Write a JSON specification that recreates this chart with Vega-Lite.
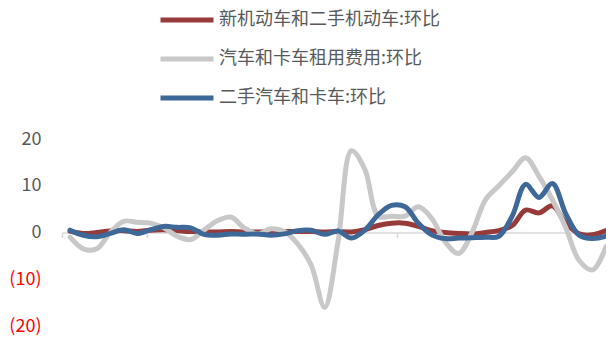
{
  "$schema": "https://vega.github.io/schema/vega-lite/v6.json",
  "width": 544,
  "height": 187,
  "autosize": "none",
  "padding": {"left": 62, "top": 139, "right": 0, "bottom": 14},
  "background": "white",
  "config": {"view": {"stroke": null}},
  "data": {"values": [
    {"t":0,"s":"新机动车和二手机动车:环比","v":0.3},{"t":1,"s":"新机动车和二手机动车:环比","v":-0.2},{"t":2,"s":"新机动车和二手机动车:环比","v":0},{"t":3,"s":"新机动车和二手机动车:环比","v":0.3},{"t":4,"s":"新机动车和二手机动车:环比","v":0.4},{"t":5,"s":"新机动车和二手机动车:环比","v":0.2},{"t":6,"s":"新机动车和二手机动车:环比","v":0.5},{"t":7,"s":"新机动车和二手机动车:环比","v":0.6},{"t":8,"s":"新机动车和二手机动车:环比","v":0.4},{"t":9,"s":"新机动车和二手机动车:环比","v":0.2},{"t":10,"s":"新机动车和二手机动车:环比","v":0.1},{"t":11,"s":"新机动车和二手机动车:环比","v":0.1},{"t":12,"s":"新机动车和二手机动车:环比","v":0.2},{"t":13,"s":"新机动车和二手机动车:环比","v":0.1},{"t":14,"s":"新机动车和二手机动车:环比","v":0.1},{"t":15,"s":"新机动车和二手机动车:环比","v":0.2},{"t":16,"s":"新机动车和二手机动车:环比","v":0.2},{"t":17,"s":"新机动车和二手机动车:环比","v":0.2},{"t":18,"s":"新机动车和二手机动车:环比","v":0.2},{"t":19,"s":"新机动车和二手机动车:环比","v":0.1},{"t":20,"s":"新机动车和二手机动车:环比","v":0.2},{"t":21,"s":"新机动车和二手机动车:环比","v":0.1},{"t":22,"s":"新机动车和二手机动车:环比","v":0.6},{"t":23,"s":"新机动车和二手机动车:环比","v":1.5},{"t":24,"s":"新机动车和二手机动车:环比","v":2.0},{"t":25,"s":"新机动车和二手机动车:环比","v":2.0},{"t":26,"s":"新机动车和二手机动车:环比","v":1.3},{"t":27,"s":"新机动车和二手机动车:环比","v":0.4},{"t":28,"s":"新机动车和二手机动车:环比","v":0},{"t":29,"s":"新机动车和二手机动车:环比","v":-0.2},{"t":30,"s":"新机动车和二手机动车:环比","v":-0.3},{"t":31,"s":"新机动车和二手机动车:环比","v":0},{"t":32,"s":"新机动车和二手机动车:环比","v":0.4},{"t":33,"s":"新机动车和二手机动车:环比","v":1.5},{"t":34,"s":"新机动车和二手机动车:环比","v":4.8},{"t":35,"s":"新机动车和二手机动车:环比","v":4.2},{"t":36,"s":"新机动车和二手机动车:环比","v":5.7},{"t":37,"s":"新机动车和二手机动车:环比","v":2},{"t":38,"s":"新机动车和二手机动车:环比","v":-0.3},{"t":39,"s":"新机动车和二手机动车:环比","v":-0.5},{"t":40,"s":"新机动车和二手机动车:环比","v":0.4},
    {"t":0,"s":"汽车和卡车租用费用:环比","v":-1},{"t":1,"s":"汽车和卡车租用费用:环比","v":-3.5},{"t":2,"s":"汽车和卡车租用费用:环比","v":-3.5},{"t":3,"s":"汽车和卡车租用费用:环比","v":0},{"t":4,"s":"汽车和卡车租用费用:环比","v":2.4},{"t":5,"s":"汽车和卡车租用费用:环比","v":2.2},{"t":6,"s":"汽车和卡车租用费用:环比","v":2.0},{"t":7,"s":"汽车和卡车租用费用:环比","v":1.0},{"t":8,"s":"汽车和卡车租用费用:环比","v":-0.8},{"t":9,"s":"汽车和卡车租用费用:环比","v":-1.5},{"t":10,"s":"汽车和卡车租用费用:环比","v":0.5},{"t":11,"s":"汽车和卡车租用费用:环比","v":2.5},{"t":12,"s":"汽车和卡车租用费用:环比","v":3.3},{"t":13,"s":"汽车和卡车租用费用:环比","v":1.0},{"t":14,"s":"汽车和卡车租用费用:环比","v":-0.3},{"t":15,"s":"汽车和卡车租用费用:环比","v":0.8},{"t":16,"s":"汽车和卡车租用费用:环比","v":0.2},{"t":17,"s":"汽车和卡车租用费用:环比","v":-2.5},{"t":18,"s":"汽车和卡车租用费用:环比","v":-7},{"t":19,"s":"汽车和卡车租用费用:环比","v":-16},{"t":20,"s":"汽车和卡车租用费用:环比","v":-2},{"t":21,"s":"汽车和卡车租用费用:环比","v":17.5},{"t":22,"s":"汽车和卡车租用费用:环比","v":13.5},{"t":23,"s":"汽车和卡车租用费用:环比","v":3.5},{"t":24,"s":"汽车和卡车租用费用:环比","v":3.5},{"t":25,"s":"汽车和卡车租用费用:环比","v":3.5},{"t":26,"s":"汽车和卡车租用费用:环比","v":5.5},{"t":27,"s":"汽车和卡车租用费用:环比","v":3},{"t":28,"s":"汽车和卡车租用费用:环比","v":-2},{"t":29,"s":"汽车和卡车租用费用:环比","v":-4.5},{"t":30,"s":"汽车和卡车租用费用:环比","v":0},{"t":31,"s":"汽车和卡车租用费用:环比","v":7},{"t":32,"s":"汽车和卡车租用费用:环比","v":10},{"t":33,"s":"汽车和卡车租用费用:环比","v":13},{"t":34,"s":"汽车和卡车租用费用:环比","v":16},{"t":35,"s":"汽车和卡车租用费用:环比","v":12},{"t":36,"s":"汽车和卡车租用费用:环比","v":7},{"t":37,"s":"汽车和卡车租用费用:环比","v":1},{"t":38,"s":"汽车和卡车租用费用:环比","v":-6},{"t":39,"s":"汽车和卡车租用费用:环比","v":-8},{"t":40,"s":"汽车和卡车租用费用:环比","v":-3},
    {"t":0,"s":"二手汽车和卡车:环比","v":0.5},{"t":1,"s":"二手汽车和卡车:环比","v":-0.6},{"t":2,"s":"二手汽车和卡车:环比","v":-0.9},{"t":3,"s":"二手汽车和卡车:环比","v":-0.2},{"t":4,"s":"二手汽车和卡车:环比","v":0.6},{"t":5,"s":"二手汽车和卡车:环比","v":-0.2},{"t":6,"s":"二手汽车和卡车:环比","v":0.6},{"t":7,"s":"二手汽车和卡车:环比","v":1.3},{"t":8,"s":"二手汽车和卡车:环比","v":1.1},{"t":9,"s":"二手汽车和卡车:环比","v":1.0},{"t":10,"s":"二手汽车和卡车:环比","v":-0.4},{"t":11,"s":"二手汽车和卡车:环比","v":-0.6},{"t":12,"s":"二手汽车和卡车:环比","v":-0.3},{"t":13,"s":"二手汽车和卡车:环比","v":-0.4},{"t":14,"s":"二手汽车和卡车:环比","v":-0.3},{"t":15,"s":"二手汽车和卡车:环比","v":-0.6},{"t":16,"s":"二手汽车和卡车:环比","v":-0.3},{"t":17,"s":"二手汽车和卡车:环比","v":0.4},{"t":18,"s":"二手汽车和卡车:环比","v":0.5},{"t":19,"s":"二手汽车和卡车:环比","v":-0.4},{"t":20,"s":"二手汽车和卡车:环比","v":0.3},{"t":21,"s":"二手汽车和卡车:环比","v":-1.2},{"t":22,"s":"二手汽车和卡车:环比","v":0.5},{"t":23,"s":"二手汽车和卡车:环比","v":3.8},{"t":24,"s":"二手汽车和卡车:环比","v":5.8},{"t":25,"s":"二手汽车和卡车:环比","v":5.5},{"t":26,"s":"二手汽车和卡车:环比","v":2.0},{"t":27,"s":"二手汽车和卡车:环比","v":-0.5},{"t":28,"s":"二手汽车和卡车:环比","v":-1.3},{"t":29,"s":"二手汽车和卡车:环比","v":-1.2},{"t":30,"s":"二手汽车和卡车:环比","v":-1.1},{"t":31,"s":"二手汽车和卡车:环比","v":-1.0},{"t":32,"s":"二手汽车和卡车:环比","v":-0.8},{"t":33,"s":"二手汽车和卡车:环比","v":3.5},{"t":34,"s":"二手汽车和卡车:环比","v":10.3},{"t":35,"s":"二手汽车和卡车:环比","v":7.5},{"t":36,"s":"二手汽车和卡车:环比","v":10.5},{"t":37,"s":"二手汽车和卡车:环比","v":4},{"t":38,"s":"二手汽车和卡车:环比","v":-0.6},{"t":39,"s":"二手汽车和卡车:环比","v":-1.3},{"t":40,"s":"二手汽车和卡车:环比","v":-0.8}
  ]},
  "mark": {"type": "line", "interpolate": "catmull-rom", "strokeWidth": 5, "clip": true, "strokeCap": "round"},
  "encoding": {
    "x": {
      "field": "t", "type": "quantitative",
      "scale": {"domain": [-0.6, 40], "nice": false, "zero": false},
      "axis": {
        "title": null, "labels": false, "grid": false, "offset": -93.5,
        "values": [-0.6, 5.75, 24.4],
        "domainColor": "#D9D9D9", "domainWidth": 1.5,
        "tickColor": "#D9D9D9", "tickSize": 5, "tickWidth": 1.5
      }
    },
    "y": {
      "field": "v", "type": "quantitative",
      "scale": {"domain": [-20, 20], "nice": false},
      "axis": {
        "title": null, "grid": false, "domain": false, "ticks": false,
        "values": [-20, -10, 0, 10, 20],
        "labelExpr": "datum.value < 0 ? '(' + abs(datum.value) + ')' : datum.value",
        "labelFont": "Noto Sans CJK SC", "labelFontSize": 18, "labelPadding": 21,
        "labelColor": {"condition": {"test": "datum.value < 0", "value": "#FF0000"}, "value": "#595959"}
      }
    },
    "color": {
      "field": "s", "type": "nominal",
      "scale": {
        "domain": ["新机动车和二手机动车:环比", "汽车和卡车租用费用:环比", "二手汽车和卡车:环比"],
        "range": ["#973B3A", "#C8C8C8", "#3D6898"]
      },
      "legend": {
        "title": null, "orient": "none", "legendX": 96, "legendY": -148,
        "symbolType": "stroke", "symbolSize": 2809, "symbolStrokeWidth": 5,
        "labelFont": "Noto Sans CJK SC", "labelFontSize": 18, "labelColor": "#595959",
        "labelOffset": 3, "rowPadding": -15, "labelLimit": 400
      }
    },
    "order": {"field": "s"}
  }
}
